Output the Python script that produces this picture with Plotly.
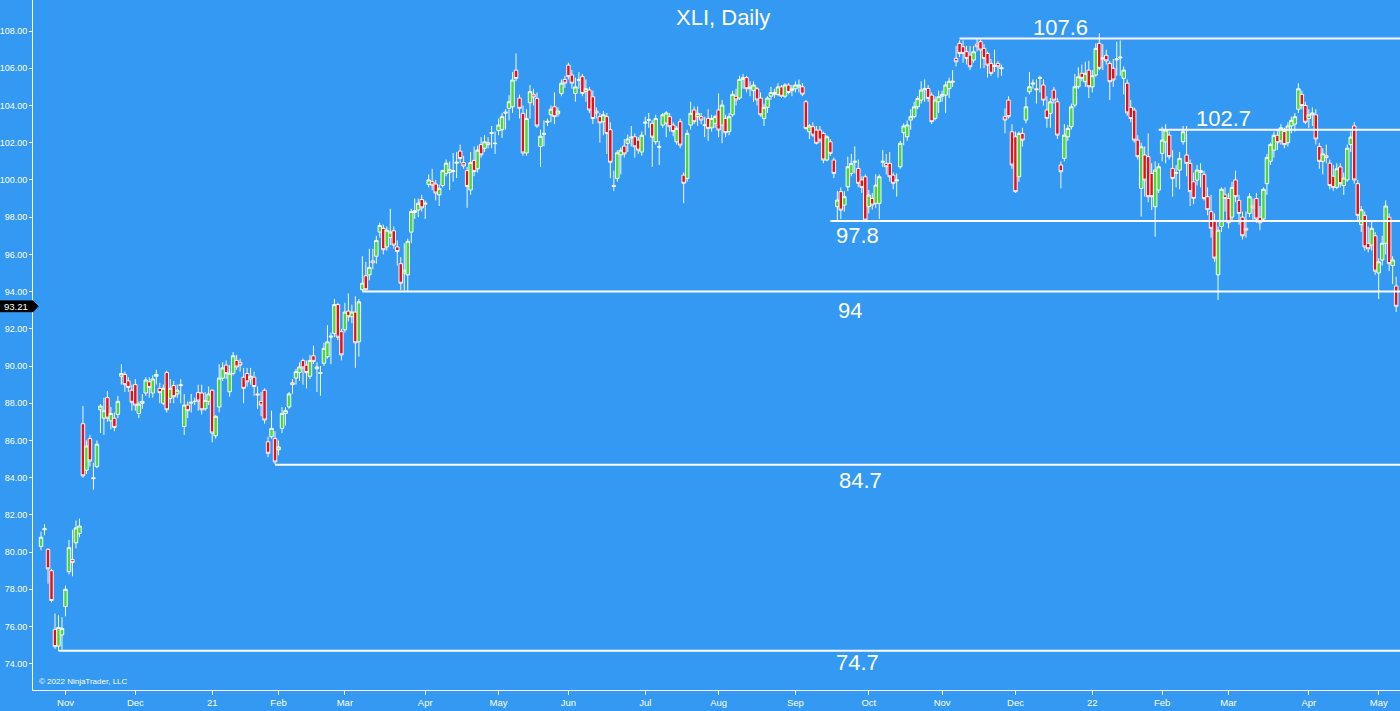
import pandas as pd
import plotly.graph_objects as go

# ---------------- data ----------------
first_day = "2020-10-22"
last_day = "2022-05-09"
holidays = ["2020-11-26", "2020-12-25", "2021-01-01", "2021-01-18", "2021-02-15",
            "2021-04-02", "2021-05-31", "2021-07-05", "2021-09-06", "2021-11-25",
            "2021-12-24", "2022-01-17", "2022-02-21", "2022-04-15"]

month_labels = ["Nov", "Dec", "21", "Feb", "Mar", "Apr", "May", "Jun", "Jul", "Aug",
                "Sep", "Oct", "Nov", "Dec", "22", "Feb", "Mar", "Apr", "May"]

open_ = [
    # Oct 2020
    80.3, 81.2, 80.15, 79.0, 75.85, 74.95, 75.55,
    # Nov 2020
    77.07, 78.95, 79.6, 80.5, 81.0, 86.9, 84.4, 86.1, 84.0, 84.6, 87.65, 87.2, 88.3, 87.05, 87.2, 87.4, 89.45, 89.55, 89.2, 88.7,
    # Dec 2020
    89.0, 87.45, 88.0, 88.55, 89.15, 88.55, 89.45, 88.8, 88.0, 89.65, 88.26, 88.95, 88.5, 89.0, 86.75, 87.9, 88.0, 88.1, 88.57, 88.55, 87.7, 88.1,
    # Jan 2021
    88.7, 86.25, 87.8, 89.35, 90.05, 88.62, 89.6, 90.3, 90.2, 89.4, 89.6, 89.3, 89.4, 88.5, 88.1, 88.7, 85.93, 86.2, 86.1,
    # Feb 2021
    85.5, 86.65, 87.45, 87.8, 89.1, 89.35, 89.65, 90.3, 90.05, 89.45, 90.55, 89.85, 89.6, 90.15, 90.5, 91.55, 91.75, 93.3, 91.85,
    # Mar 2021
    91.95, 92.95, 92.65, 92.9, 91.3, 94.1, 94.85, 94.9, 95.65, 95.9, 97.2, 97.4, 96.4, 96.9, 97.27, 96.4, 95.5, 95.0, 94.9, 97.2, 98.25, 98.38, 98.95,
    # Apr 2021
    98.7, 99.76, 99.9, 99.78, 99.2, 99.7, 100.35, 100.4, 100.45, 100.9, 101.55, 100.93, 100.5, 99.46, 101.05, 100.6, 101.9, 101.7, 102.0, 102.5, 101.95,
    # May 2021
    102.65, 102.7, 103.65, 103.85, 103.93, 105.9, 104.4, 103.58, 101.45, 104.15, 104.6, 104.38, 101.8, 102.45, 103.1, 103.5, 103.93, 103.55, 104.65, 105.4,
    # Jun 2021
    106.17, 105.64, 104.65, 105.35, 105.55, 104.75, 104.83, 104.47, 103.7, 103.4, 103.13, 103.4, 102.7, 99.7, 100.08, 101.35, 101.82, 101.97, 102.25, 102.32, 102.14, 101.5,
    # Jul 2021
    103.05, 103.2, 103.04, 102.05, 101.75, 102.95, 103.05, 103.4, 102.95, 102.05, 103.13, 100.26, 100.08, 102.95, 103.76, 103.4, 103.4, 102.95, 103.31, 102.8, 103.04,
    # Aug 2021
    103.76, 102.95, 103.31, 102.6, 103.5, 104.5, 104.4, 105.4, 105.5, 104.9, 104.8, 104.9, 104.4, 103.3, 103.9, 104.5, 104.7, 104.6, 105.0, 104.5, 105.1, 104.8,
    # Sep 2021
    104.9, 105.0, 105.01, 104.2, 102.59, 102.86, 102.68, 102.68, 102.5, 101.07, 102.05, 101.07, 98.56, 99.37, 98.65, 99.63, 100.35, 100.95, 100.62, 100.0, 100.17,
    # Oct 2021
    98.56, 99.01, 98.74, 98.74, 100.95, 100.89, 100.89, 100.26, 99.95, 100.71, 102.54, 102.32, 103.22, 103.4, 103.93, 104.29, 104.85, 104.92, 104.56, 103.31, 104.2,
    # Nov 2021
    104.5, 104.56, 104.9, 105.25, 106.53, 107.34, 107.16, 106.89, 106.71, 106.44, 107.3, 107.43, 107.07, 106.8, 106.26, 106.1, 106.26, 105.98, 103.4, 104.29, 102.59,
    # Dec 2021
    102.32, 100.17, 102.5, 103.22, 104.74, 105.15, 104.9, 105.45, 105.1, 103.76, 103.58, 104.83, 104.2, 100.8, 101.16, 102.32, 102.86, 104.02, 105.01, 105.73, 105.28, 105.9,
    # Jan 2022
    105.0, 105.64, 107.34, 106.5, 106.7, 106.26, 106.0, 106.45, 106.55, 105.46, 105.2, 103.9, 103.76, 102.14, 99.55, 101.34, 101.25, 100.35, 98.56, 99.46,
    # Feb 2022
    101.43, 102.05, 102.41, 100.62, 100.35, 100.53, 102.05, 101.34, 100.89, 99.9, 99.99, 100.4, 100.3, 99.1, 98.3, 97.8, 94.9, 97.5, 99.2,
    # Mar 2022
    99.0, 98.0, 100.0, 98.9, 98.0, 97.4, 98.2, 98.6, 99.0, 98.0, 97.9, 99.8, 101.0, 101.6, 102.4, 102.1, 102.6, 102.0, 102.9, 103.0, 103.8, 104.6, 104.0,
    # Apr 2022
    103.3, 103.5, 103.5, 101.8, 101.0, 101.3, 100.9, 100.2, 99.6, 100.7, 99.7, 100.0, 101.9, 102.9, 99.8, 97.6, 98.1, 96.6, 96.5, 97.0,
    # May 2022
    95.0, 95.7, 96.6, 98.0, 95.4, 94.3,
]

high = [
    81.1, 81.5, 80.2, 79.1, 76.7, 76.6, 76.5,
    78.2, 80.65, 81.2, 81.7, 81.8, 87.85, 86.0, 86.3, 84.8, 86.0, 87.95, 88.3, 88.65, 87.8, 87.5, 88.4, 90.1, 89.7, 89.4, 89.0,
    89.3, 88.1, 88.5, 89.4, 89.4, 89.5, 89.8, 89.1, 89.0, 89.75, 89.3, 89.2, 89.0, 89.3, 88.5, 88.1, 88.5, 88.3, 89.0, 89.0, 88.6, 88.9,
    88.75, 87.35, 90.1, 90.2, 90.3, 90.05, 90.75, 90.6, 90.4, 89.9, 89.9, 89.9, 89.7, 88.9, 88.6, 88.8, 86.2, 87.6, 86.5,
    86.0, 87.8, 87.8, 88.6, 89.3, 89.85, 90.2, 90.4, 90.3, 90.6, 91.1, 90.2, 90.0, 91.25, 92.2, 91.8, 93.6, 93.4, 92.0,
    93.4, 93.9, 93.3, 93.75, 93.6, 95.9, 95.6, 96.3, 96.3, 97.0, 97.7, 97.6, 97.5, 98.45, 97.5, 96.75, 95.85, 96.6, 96.85, 98.45, 99.0, 99.0, 99.2,
    98.9, 100.3, 100.6, 100.0, 99.75, 100.55, 101.1, 101.0, 101.45, 101.5, 101.9, 101.3, 100.7, 101.5, 101.8, 101.85, 102.3, 102.4, 102.3, 102.9, 102.6,
    103.3, 103.6, 103.8, 104.55, 105.8, 106.8, 104.6, 104.0, 103.8, 105.1, 104.9, 104.7, 102.7, 103.2, 103.3, 104.0, 104.7, 103.9, 105.4, 105.6,
    106.3, 105.9, 105.5, 105.8, 105.7, 105.4, 105.0, 104.8, 103.9, 103.6, 103.7, 103.6, 103.1, 100.5, 101.6, 101.75, 102.2, 102.45, 102.9, 102.5, 102.3, 102.6,
    103.4, 103.6, 103.2, 103.5, 102.1, 103.6, 103.7, 103.6, 103.1, 102.9, 103.3, 100.4, 102.7, 104.2, 103.95, 103.95, 103.6, 103.4, 103.8, 103.5, 103.5,
    104.65, 104.3, 103.5, 103.6, 104.8, 104.9, 105.6, 105.7, 105.6, 105.3, 105.3, 105.0, 104.7, 104.1, 104.5, 105.0, 104.9, 105.2, 105.1, 105.2, 105.2, 105.1,
    105.3, 105.4, 105.2, 104.3, 103.0, 103.1, 102.9, 102.9, 102.6, 102.4, 102.2, 101.2, 99.4, 99.6, 99.4, 101.25, 101.4, 101.8, 101.1, 100.2, 100.3,
    99.46, 99.3, 100.3, 100.3, 101.6, 101.4, 101.5, 100.4, 100.35, 102.1, 103.04, 103.2, 103.8, 104.2, 104.5, 105.3, 105.4, 105.1, 104.7, 104.5, 104.8,
    104.8, 105.3, 105.5, 105.9, 107.2, 107.5, 107.5, 107.2, 107.2, 107.2, 107.6, 107.55, 107.3, 106.9, 106.5, 107.0, 106.4, 106.2, 103.85, 104.5, 103.0,
    102.6, 102.6, 102.8, 104.47, 105.8, 105.4, 105.4, 105.6, 105.4, 104.5, 104.4, 105.0, 104.4, 101.0, 103.0, 102.95, 104.1, 105.7, 106.05, 106.2, 106.35, 106.4,
    105.9, 107.34, 107.88, 107.3, 107.0, 106.4, 106.5, 107.43, 107.5, 106.1, 105.4, 104.3, 103.9, 102.4, 102.0, 101.8, 102.5, 100.9, 101.0, 100.9,
    102.86, 103.0, 102.6, 101.6, 100.8, 101.5, 102.9, 102.9, 101.1, 100.4, 100.8, 100.9, 100.5, 99.6, 99.2, 98.2, 97.5, 99.6, 99.6,
    99.3, 99.9, 100.5, 99.2, 98.3, 98.3, 99.3, 99.0, 99.3, 98.6, 99.6, 101.4, 102.0, 102.6, 102.7, 103.0, 102.8, 103.1, 103.4, 103.6, 105.2, 104.8, 104.2,
    103.8, 103.9, 103.8, 102.0, 101.7, 101.9, 101.1, 100.8, 100.9, 100.9, 100.4, 101.9, 102.6, 103.1, 100.0, 98.6, 98.3, 97.5, 97.8, 97.2,
    95.8, 97.0, 98.9, 98.2, 95.9, 94.8,
]

low = [
    80.1, 80.9, 78.3, 77.3, 74.8, 74.7, 74.75,
    76.55, 78.8, 78.7, 80.2, 80.8, 84.0, 84.2, 84.6, 83.35, 84.5, 86.4, 86.3, 87.0, 86.6, 86.5, 87.2, 89.0, 88.6, 88.6, 87.6,
    87.6, 87.2, 87.7, 88.4, 88.3, 88.3, 89.0, 88.0, 87.9, 87.5, 88.0, 88.0, 88.3, 88.0, 86.3, 87.2, 87.5, 87.9, 87.6, 87.4, 87.6, 87.9,
    85.9, 86.1, 87.5, 89.2, 89.3, 88.35, 89.5, 89.8, 89.7, 88.0, 88.9, 89.0, 88.4, 87.7, 87.3, 86.9, 85.1, 86.1, 84.7,
    85.2, 86.4, 86.8, 87.7, 88.5, 89.0, 89.2, 89.0, 88.8, 89.3, 90.1, 88.6, 88.4, 90.0, 90.4, 90.1, 91.55, 91.4, 90.3,
    91.8, 92.4, 92.3, 89.9, 90.5, 94.0, 94.05, 94.6, 95.2, 95.5, 96.9, 96.0, 96.2, 96.5, 96.3, 95.4, 94.08, 94.05, 94.0, 96.6, 97.9, 98.0, 98.3,
    97.9, 99.6, 99.45, 98.9, 98.6, 99.6, 100.2, 99.45, 99.9, 100.1, 100.9, 100.6, 98.5, 99.2, 100.2, 100.4, 101.2, 101.5, 101.7, 101.7, 101.4,
    102.4, 102.25, 102.7, 103.2, 103.6, 105.3, 103.3, 101.3, 101.3, 103.3, 104.0, 102.8, 100.7, 101.8, 102.9, 103.1, 103.0, 103.4, 104.5, 104.95,
    105.4, 104.9, 104.2, 104.9, 104.5, 104.2, 103.6, 103.0, 103.3, 102.0, 102.4, 101.4, 100.1, 99.4, 99.9, 100.3, 101.2, 101.5, 101.8, 101.2, 101.4, 101.3,
    102.4, 102.8, 100.7, 101.9, 100.8, 102.8, 102.3, 102.6, 102.35, 101.9, 101.7, 98.75, 99.9, 102.7, 103.0, 102.9, 103.0, 102.3, 102.1, 102.6, 102.8,
    102.3, 101.97, 102.3, 102.4, 103.4, 104.0, 104.3, 104.9, 104.7, 104.5, 104.2, 104.0, 103.4, 102.9, 103.6, 104.3, 104.4, 104.5, 104.4, 104.4, 104.6, 104.5,
    104.7, 104.7, 104.5, 102.7, 102.2, 102.3, 101.9, 102.0, 100.9, 101.0, 101.3, 100.1, 97.85, 97.9, 98.3, 99.4, 100.2, 100.35, 99.6, 99.3, 97.8,
    98.2, 98.4, 98.5, 97.9, 100.7, 100.3, 99.9, 99.5, 99.1, 100.6, 101.87, 102.1, 102.7, 103.3, 103.8, 104.1, 104.2, 104.2, 103.0, 103.2, 103.6,
    104.2, 103.6, 104.4, 105.0, 106.1, 106.6, 106.3, 106.2, 105.9, 106.3, 106.9, 106.0, 106.0, 105.5, 105.6, 105.8, 105.5, 105.6, 102.5, 103.3, 100.6,
    99.3, 99.9, 101.8, 103.04, 104.6, 104.9, 104.1, 104.7, 104.0, 102.8, 102.8, 104.1, 102.2, 99.55, 101.0, 102.1, 102.7, 103.9, 104.9, 105.3, 105.0, 104.4,
    104.7, 105.54, 105.9, 105.9, 106.2, 104.29, 105.0, 105.6, 105.6, 104.6, 103.45, 103.1, 102.0, 101.1, 98.03, 99.1, 98.8, 98.38, 96.95, 99.3,
    101.0, 100.9, 101.1, 99.1, 99.6, 99.5, 101.9, 100.2, 98.6, 98.7, 99.7, 99.6, 98.9, 98.1, 96.9, 95.6, 93.55, 97.2, 98.3,
    97.4, 97.8, 98.8, 97.6, 96.8, 96.9, 98.0, 97.8, 97.7, 97.3, 97.8, 99.2, 100.8, 101.2, 101.6, 101.9, 101.7, 101.8, 102.5, 102.6, 103.6, 103.8, 103.0,
    102.8, 102.9, 101.9, 100.6, 100.3, 100.9, 99.5, 99.4, 99.5, 99.6, 99.2, 99.9, 101.5, 99.8, 97.8, 97.2, 96.2, 96.1, 96.2, 94.9,
    93.6, 95.4, 96.0, 95.1, 94.4, 92.9,
]

close = [
    80.8, 81.25, 79.1, 77.4, 74.92, 75.95, 75.9,
    78.0, 80.24, 79.45, 81.3, 81.4, 84.1, 85.7, 84.9, 83.95, 85.8, 87.85, 87.6, 87.2, 87.45, 86.7, 88.1, 89.6, 89.0, 88.85, 88.05,
    87.9, 87.95, 88.1, 89.25, 88.85, 89.3, 89.55, 88.57, 88.8, 87.65, 88.8, 88.35, 88.7, 88.95, 87.9, 87.6, 88.05, 88.1, 88.12, 87.65, 88.15, 88.5,
    86.4, 87.3, 89.35, 89.9, 89.6, 89.61, 90.55, 89.95, 90.05, 88.8, 89.15, 89.45, 88.9, 88.45, 87.9, 87.1, 85.31, 86.65, 84.85,
    85.65, 87.45, 87.6, 88.5, 89.0, 89.7, 89.95, 89.9, 89.65, 90.3, 90.25, 89.95, 89.65, 90.95, 91.3, 91.6, 93.3, 91.55, 90.6,
    92.9, 92.65, 92.9, 91.25, 93.45, 94.45, 94.1, 95.3, 95.55, 96.75, 97.55, 96.25, 97.3, 97.2, 96.5, 96.15, 94.45, 95.15, 96.7, 98.3, 98.35, 98.75, 98.5,
    98.75, 100.0, 99.72, 99.3, 99.55, 100.5, 100.9, 100.55, 100.5, 100.95, 101.15, 100.75, 99.65, 100.93, 100.45, 101.6, 101.35, 102.05, 101.9, 102.55, 101.97,
    102.95, 103.4, 103.6, 104.2, 105.37, 105.45, 103.85, 101.45, 103.3, 104.75, 104.45, 102.9, 102.35, 102.5, 103.15, 103.8, 103.4, 103.7, 105.2, 105.2,
    105.55, 105.2, 105.0, 105.4, 104.65, 104.9, 103.76, 103.3, 103.6, 103.07, 103.5, 102.5, 100.95, 99.65, 101.46, 101.6, 101.4, 102.2, 102.3, 101.78, 101.6, 102.4,
    103.1, 103.25, 102.3, 103.3, 101.8, 103.5, 103.6, 102.86, 102.6, 102.77, 101.87, 99.82, 102.5, 103.58, 103.13, 103.58, 103.22, 102.95, 102.77, 103.3, 103.4,
    102.68, 104.02, 102.54, 103.4, 104.6, 104.3, 105.4, 105.5, 104.9, 105.0, 105.1, 104.3, 103.5, 103.9, 104.4, 104.7, 104.6, 105.0, 104.5, 105.1, 104.7, 104.9,
    105.1, 105.1, 104.61, 102.77, 102.9, 102.41, 101.97, 102.14, 101.07, 102.32, 101.43, 100.35, 98.92, 98.38, 99.1, 100.71, 100.89, 101.0, 99.82, 99.6, 97.84,
    99.19, 98.65, 99.72, 100.17, 101.0, 100.71, 100.17, 99.82, 100.0, 101.97, 102.9, 102.95, 103.4, 103.93, 104.38, 104.83, 104.9, 104.38, 103.13, 104.29, 104.47,
    104.6, 105.1, 105.3, 105.3, 106.35, 106.8, 106.8, 106.53, 106.08, 106.89, 107.16, 106.98, 106.53, 106.17, 105.73, 106.15, 106.08, 106.02, 103.22, 103.4, 100.8,
    99.37, 102.5, 102.14, 103.93, 105.01, 105.2, 104.85, 105.5, 104.29, 103.31, 104.2, 104.29, 102.41, 100.44, 102.41, 102.77, 103.93, 105.01, 105.54, 105.46, 105.73, 105.01,
    105.6, 107.07, 106.0, 106.55, 106.4, 105.28, 105.37, 106.5, 106.6, 105.9, 103.6, 103.3, 102.14, 101.25, 101.78, 99.99, 99.1, 99.1, 100.53, 100.71,
    102.14, 102.68, 101.25, 100.08, 100.4, 101.16, 102.59, 100.89, 99.37, 99.01, 100.53, 100.5, 99.0, 98.4, 97.4, 95.8, 97.3, 99.5, 99.0,
    97.7, 99.6, 99.1, 98.2, 97.0, 97.3, 99.1, 98.5, 97.9, 97.7, 99.5, 101.2, 101.9, 102.4, 102.0, 102.8, 101.9, 102.9, 103.2, 103.4, 104.9, 104.0, 103.1,
    103.5, 103.6, 102.2, 101.0, 101.4, 101.2, 99.7, 99.6, 100.6, 99.8, 100.1, 101.7, 102.3, 100.0, 98.1, 98.4, 96.4, 96.3, 97.4, 95.1,
    95.6, 96.6, 98.6, 95.5, 95.7, 93.21,
]

levels = [107.6, 102.7, 97.8, 94.0, 84.7, 74.7]
level_text = ["107.6", "102.7", "97.8", "94", "84.7", "74.7"]
level_start = ["2021-11-08", "2022-01-31", "2021-09-16", "2021-03-08", "2021-01-29", "2020-10-29"]
last_price = 93.21

# ---------------- derived ----------------
dates = [d.strftime("%Y-%m-%d") for d in
         pd.bdate_range(first_day, last_day, freq="C", holidays=holidays)]
n = min(len(dates), len(open_), len(high), len(low), len(close))
dates = dates[:n]
hi = [max(h, o, c) for h, o, c in zip(high[:n], open_[:n], close[:n])]
lo = [min(l, o, c) for l, o, c in zip(low[:n], open_[:n], close[:n])]

tickvals = [i for i in range(1, n) if dates[i][5:7] != dates[i - 1][5:7]]
ticktext = month_labels[:len(tickvals)]

BG = "#3399F2"
WHITE = "#FFFFFF"
TICKFAMILY = "Liberation Sans, Arial, sans-serif"
YFONT = dict(family=TICKFAMILY, size=9, color=WHITE)
XFONT = dict(family=TICKFAMILY, size=9.5, color=WHITE)
BIGFONT = dict(family="Liberation Sans, Arial, sans-serif", size=22, color=WHITE)

fig = go.Figure()
fig.add_trace(go.Candlestick(
    x=list(range(n)), open=open_[:n], high=hi, low=lo, close=close[:n],
    increasing=dict(line=dict(color="#F2FFF0", width=1), fillcolor="#4CD83A"),
    decreasing=dict(line=dict(color="#FFF2F2", width=1), fillcolor="#E3101A"),
    whiskerwidth=0, showlegend=False, hoverinfo="skip",
))

# horizontal support / resistance levels
# (paper x of the label centre, pixel shift of the label centre from the line)
label_pos = {
    "107.6": (0.7513, 11), "102.7": (0.8712, 11), "97.8": (0.6035, -15),
    "94": (0.5977, -19), "84.7": (0.6057, -16), "74.7": (0.6035, -12),
}
for lv, txt, start in zip(levels, level_text, level_start):
    x0 = dates.index(start)
    fig.add_shape(type="line", xref="x", yref="y", x0=x0, x1=n + 20, y0=lv, y1=lv,
                  line=dict(color=WHITE, width=2))
    px, shift = label_pos[txt]
    fig.add_annotation(xref="paper", yref="y", x=px, y=lv, text=txt, showarrow=False,
                       font=BIGFONT, xanchor="center", yanchor="middle", yshift=shift)

# last price marker on the axis
fig.add_shape(type="path", xref="paper", yref="y",
              path=f"M -0.0241,{last_price + 0.29} L 0,{last_price + 0.29} "
                   f"L 0.0037,{last_price} L 0,{last_price - 0.29} "
                   f"L -0.0241,{last_price - 0.29} Z",
              fillcolor="black", line=dict(color="black", width=1), layer="above")
fig.add_annotation(xref="paper", yref="y", x=-0.0121, y=last_price, text=f"{last_price:.2f}",
                   showarrow=False, font=dict(family=TICKFAMILY, size=9.5, color=WHITE),
                   xanchor="center", yanchor="middle")

fig.add_annotation(xref="paper", yref="paper", x=0.5048, y=0.975, text="XLI, Daily",
                   showarrow=False, font=BIGFONT, xanchor="center", yanchor="middle")
fig.add_annotation(xref="paper", yref="paper", x=0.003, y=0.013,
                   text="© 2022 NinjaTrader, LLC", showarrow=False,
                   font=dict(family=TICKFAMILY, size=8, color=WHITE),
                   xanchor="left", yanchor="middle")

ytick_vals = list(range(74, 109, 2))
fig.update_layout(
    width=1400, height=711,
    margin=dict(l=33, r=0, t=0, b=21, autoexpand=False),
    paper_bgcolor=BG, plot_bgcolor=BG,
    boxgap=0.0, boxgroupgap=0.0,
    xaxis=dict(range=[-2.3, 389.1], tickmode="array", tickvals=tickvals, ticktext=ticktext,
               showgrid=False, zeroline=False, showline=True, linecolor=WHITE, linewidth=1,
               ticks="outside", ticklen=4, tickcolor=WHITE, tickfont=XFONT,
               rangeslider=dict(visible=False), fixedrange=True, automargin=False),
    yaxis=dict(range=[72.59, 109.67], tickmode="array", tickvals=ytick_vals,
               ticktext=[f"{v:.2f}" for v in ytick_vals],
               showgrid=False, zeroline=False, showline=True, linecolor=WHITE, linewidth=1,
               ticks="outside", ticklen=3, tickcolor=WHITE, tickfont=YFONT, fixedrange=True,
               automargin=False),
    hovermode=False,
)

fig.write_html("out.html", config={"displayModeBar": False},
               post_script="document.body.style.margin='0';")
